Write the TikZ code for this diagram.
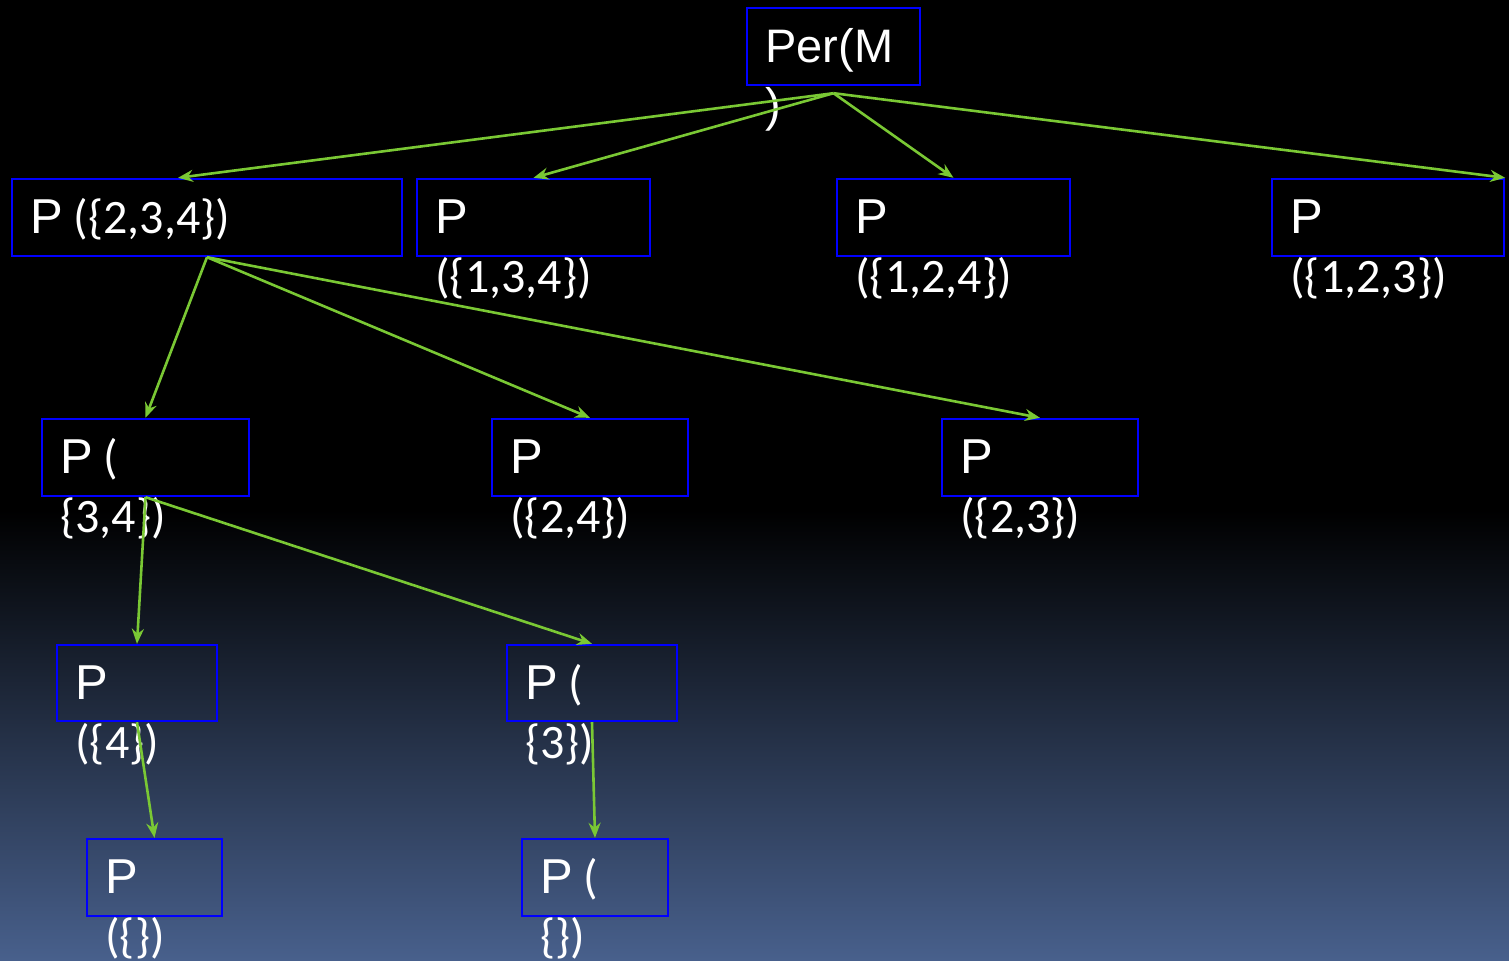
\documentclass[tikz,border=0pt]{standalone}
\usepackage{fontspec}
\setmainfont{Carlito}
\newfontfamily\arialfam{Liberation Sans}
\newfontfamily\calfam{Carlito}
\usetikzlibrary{arrows.meta,fit}

\definecolor{boxblue}{RGB}{0,0,255}
\definecolor{linkgreen}{RGB}{122,200,52}
\definecolor{bgblue}{RGB}{72,96,140}

% letter P in Arial-like face, set text in Calibri-like face
\newcommand{\pf}{\arialfam\fontsize{24.5}{29.5}\selectfont}
\newcommand{\cf}{\calfam\fontsize{24}{29.5}\selectfont}
\newcommand{\rf}{\arialfam\fontsize{23.5}{29.5}\selectfont}

\begin{document}
\begin{tikzpicture}[x=0.5pt,y=-0.5pt,
  box/.style={draw=boxblue, line width=1.2pt, inner sep=0pt},
  lbl/.style={text=white, anchor=base west, inner sep=0pt, align=left,
              font=\fontsize{24}{29.5}\selectfont},
  link/.style={draw=linkgreen, line width=1.3pt,
               -{Stealth[length=7.5pt,width=6pt]}}]

  % background
  \useasboundingbox (0,0) rectangle (1509,960);
  \fill[black] (0,0) rectangle (1509,960);
  \shade[top color=black, bottom color=bgblue] (0,510) rectangle (1509,960);

  % boxes
  \node[box, fit={(747,8) (920,85)}] (root) {};
  \node[box, fit={(12,179) (402,256)}] (a) {};
  \node[box, fit={(417,179) (650,256)}] (b) {};
  \node[box, fit={(837,179) (1070,256)}] (c) {};
  \node[box, fit={(1272,179) (1504,256)}] (d) {};
  \node[box, fit={(42,419) (249,496)}] (e) {};
  \node[box, fit={(492,419) (688,496)}] (f) {};
  \node[box, fit={(942,419) (1138,496)}] (g) {};
  \node[box, fit={(57,645) (217,721)}] (h) {};
  \node[box, fit={(507,645) (677,721)}] (i) {};
  \node[box, fit={(87,839) (222,916)}] (j) {};
  \node[box, fit={(522,839) (668,916)}] (k) {};

  % texts (two-line labels are placed by the baseline of their second line)
  \node[lbl] (rootT) at (765,121) {\rf Per(M\\\rf )};
  \node[lbl] (aT) at (30,233) {{\pf P} {\cf (\{2,3,4\})}};
  \node[lbl] (bT) at (435,292) {\pf P\\\cf (\{1,3,4\})};
  \node[lbl] (cT) at (855,292) {\pf P\\\cf (\{1,2,4\})};
  \node[lbl] (dT) at (1290,292) {\pf P\\\cf (\{1,2,3\})};
  \node[lbl] (eT) at (60,532) {{\pf P} {\cf (}\\\cf \{3,4\})};
  \node[lbl] (fT) at (510,532) {\pf P\\\cf (\{2,4\})};
  \node[lbl] (gT) at (960,532) {\pf P\\\cf (\{2,3\})};
  \node[lbl] (hT) at (75,758) {\pf P\\\cf (\{4\})};
  \node[lbl] (iT) at (525,758) {{\pf P} {\cf (}\\\cf \{3\})};
  \node[lbl] (jT) at (105,952) {\pf P\\\cf (\{\})};
  \node[lbl] (kT) at (540,952) {{\pf P} {\cf (}\\\cf \{\})};

  % connectors
  \coordinate (rootport) at ([yshift=-3.5pt]root.south);
  \draw[link] (rootport) -- ([xshift=-14.5pt]a.north);
  \draw[link] (rootport) -- (b.north);
  \draw[link] (rootport) -- (c.north);
  \draw[link] (rootport) -- (d.north east);

  \draw[link] (a.south) -- (e.north);
  \draw[link] (a.south) -- (f.north);
  \draw[link] (a.south) -- (g.north);

  \draw[link] (e.south) -- (h.north);
  \draw[link] (e.south) -- (i.north);

  \draw[link] (h.south) -- (j.north);
  \draw[link] (i.south) -- (k.north);
\end{tikzpicture}
\end{document}
